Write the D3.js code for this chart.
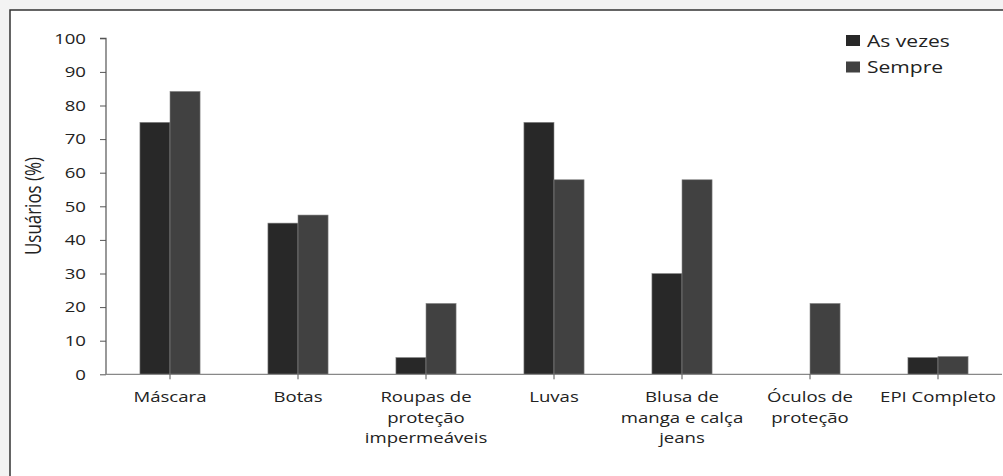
<!DOCTYPE html>
<html>
<head>
<meta charset="utf-8">
<script src="https://cdn.jsdelivr.net/npm/d3@7/dist/d3.min.js"></script>
<style>
  html, body { margin: 0; padding: 0; background: #f3f3f3; }
  svg { display: block; }
  text { font-family: "Open Sans", "DejaVu Sans", sans-serif; fill: #222; }
</style>
</head>
<body>
<script>
// Uso de EPI por frequência
const categories = [
  ["Máscara"],
  ["Botas"],
  ["Roupas de", "proteção", "impermeáveis"],
  ["Luvas"],
  ["Blusa de", "manga e calça", "jeans"],
  ["Óculos de", "proteção"],
  ["EPI Completo"]
];
const seriesNames = ["As vezes", "Sempre"];
const asVezes = [75, 45, 5, 75, 30, 0, 5];
const sempre = [84.2, 47.4, 21.1, 57.9, 57.9, 21.1, 5.3];
const yTicks = [0, 10, 20, 30, 40, 50, 60, 70, 80, 90, 100];
const colors = ["#282828", "#414141"];

const W = 1003, H = 476;
const STRETCH = 1.24;   // horizontal widening of the lettering
const svg = d3.select("body").append("svg").attr("width", W).attr("height", H);

// white chart area with dark frame (top and left edges visible)
svg.append("rect").attr("x", 10).attr("y", 10).attr("width", W).attr("height", H)
  .attr("fill", "#fff").attr("stroke", "#333").attr("stroke-width", 1.5);

const plot = { left: 106, right: 1002, top: 38.3, bottom: 374.3 };

const keys = categories.map(c => c.join(" "));
const x = d3.scaleBand().domain(keys).range([plot.left, plot.right])
  .paddingInner(0.53).paddingOuter(0.265);
const xs = d3.scaleBand().domain(seriesNames).range([0, x.bandwidth()]);
const y = d3.scaleLinear().domain([0, 100]).range([plot.bottom, plot.top]);

const rows = keys.map((k, i) => ({ key: k, values: [asVezes[i], sempre[i]] }));

// bars
const groups = svg.append("g").selectAll("g").data(rows).join("g")
  .attr("transform", d => `translate(${x(d.key)},0)`);
groups.selectAll("rect")
  .data(d => d.values.map((v, j) => ({ name: seriesNames[j], v, j })).filter(e => e.v > 0))
  .join("rect")
  .attr("x", e => xs(e.name))
  .attr("width", xs.bandwidth())
  .attr("y", e => y(e.v))
  .attr("height", e => y(0) - y(e.v))
  .attr("fill", e => colors[e.j])
  .attr("stroke", "#8a8a8a").attr("stroke-width", 0.6);

// y axis
const yAxis = svg.append("g").attr("transform", `translate(${plot.left},0)`)
  .call(d3.axisLeft(y).tickValues(yTicks).tickSize(6));
yAxis.select(".domain").attr("stroke", "#555").attr("stroke-width", 1.2)
  .attr("d", `M-6,${plot.top}H0V${plot.bottom}`);
yAxis.selectAll(".tick line").attr("stroke", "#555");
yAxis.selectAll(".tick text")
  .attr("x", 0)
  .attr("transform", `translate(-20,0) scale(${STRETCH},1)`)
  .style("font-size", "15px").attr("fill", "#222");

// x axis
const xAxis = svg.append("g").attr("transform", `translate(0,${plot.bottom})`)
  .call(d3.axisBottom(x).tickSize(5).tickFormat(""));
xAxis.select(".domain").attr("stroke", "#888").attr("stroke-width", 1.2)
  .attr("d", `M${plot.left},0H${plot.right}`);
xAxis.selectAll(".tick line").attr("stroke", "#555");

// multi-line category labels
const labels = svg.append("g").selectAll("text").data(categories).join("text")
  .attr("transform", (c, i) =>
    `translate(${x(keys[i]) + x.bandwidth() / 2},402) scale(${STRETCH},1)`)
  .attr("text-anchor", "middle")
  .style("font-size", "15px");
labels.selectAll("tspan").data(c => c).join("tspan")
  .attr("x", 0)
  .attr("dy", (t, i) => i === 0 ? 0 : 20.7)
  .text(t => t);

// y axis title
svg.append("text")
  .attr("transform", `translate(41,206) scale(${STRETCH},1) rotate(-90)`)
  .attr("text-anchor", "middle")
  .attr("textLength", 98).attr("lengthAdjust", "spacingAndGlyphs")
  .style("font-size", "17px")
  .text("Usuários (%)");

// legend
const legend = svg.append("g").selectAll("g").data(seriesNames).join("g")
  .attr("transform", (d, i) => `translate(846,${35 + i * 26.5})`);
legend.append("rect").attr("width", 14).attr("height", 11)
  .attr("fill", (d, i) => colors[i]);
legend.append("text")
  .attr("transform", `translate(21,11.5) scale(${STRETCH},1)`)
  .style("font-size", "17px").text(d => d);
</script>
</body>
</html>
